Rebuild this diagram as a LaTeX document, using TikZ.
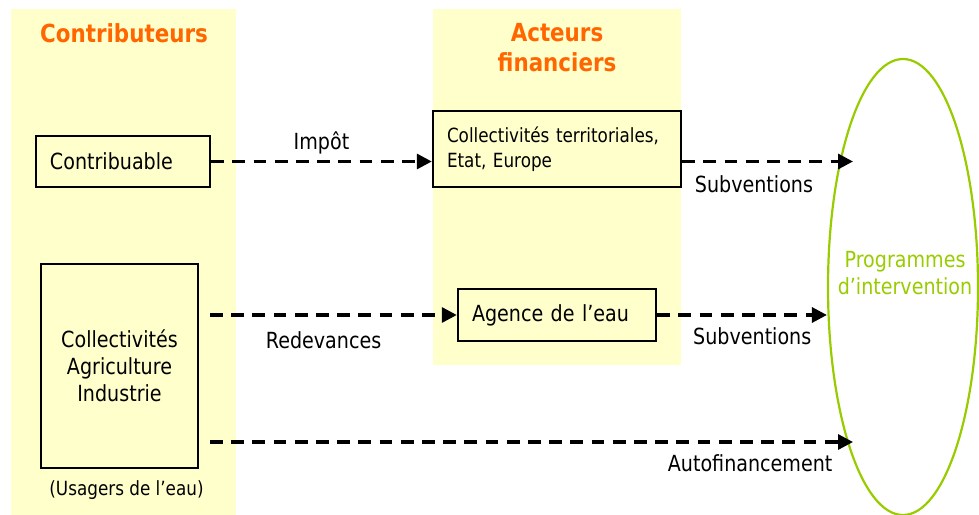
\documentclass[tikz,border=0pt]{standalone}
\usepackage{fontspec}
\setmainfont{DejaVu Sans}[FakeStretch=0.86]
\usepackage{tikz}
\usetikzlibrary{shapes, arrows.meta}
\definecolor{paleyellow}{HTML}{FFFFCC}
\definecolor{titleorange}{HTML}{FF6600}
\definecolor{progreen}{HTML}{99CC00}
\newcommand{\txtmain}{\fontsize{15.8pt}{19.2pt}\selectfont}
\newcommand{\txtsmall}{\fontsize{13.9pt}{17.8pt}\selectfont}
\newcommand{\txttitle}{\fontsize{17.7pt}{21.3pt}\selectfont\bfseries}
\tikzstyle{panel} = [rectangle, fill=paleyellow, inner sep=0pt]
\tikzstyle{coltitle} = [text=titleorange, font=\txttitle, align=center]
\tikzstyle{actor} = [rectangle, draw=black, line width=0.6mm, fill=paleyellow, font=\txtmain, inner xsep=3.5mm, align=left]
\tikzstyle{progellipse} = [ellipse, draw=progreen, line width=0.55mm, minimum width=37.5mm, minimum height=114mm]
\tikzstyle{flow} = [draw, line width=0.8mm, dash pattern=on 3.2mm off 2.1mm, -{Triangle[length=3.75mm, width=3.75mm]}]
\tikzstyle{lbl} = [font=\txtmain, inner sep=0pt]
\begin{document}
\begin{tikzpicture}[x=0.25mm, y=-0.25mm]
  \useasboundingbox (0,0) rectangle (979,515);
  %% columns
  \node [panel, minimum width=56.25mm, minimum height=126.5mm] (contribcol) at (123.5,262) {};
  \node [panel, minimum width=62mm, minimum height=89mm] (acteurcol) at (557,187) {};
  \node [coltitle] (contribtitle) at (124,33) {Contributeurs};
  \node [coltitle] (acteurtitle) at (557,48) {Acteurs\\financiers};
  %% nodes
  % contributeurs
  \node [actor, text width=36.5mm, minimum height=12.75mm] (contrib) at (123,161.5) {Contribuable};
  \node [actor, align=center, minimum width=39.25mm, minimum height=51mm] (usagers) at (119.5,366) {Collectivités\\Agriculture\\Industrie};
  \node [lbl, font=\txtsmall] (usagerslbl) at (126.5,490) {(Usagers de l’eau)};
  % acteurs financiers
  \node [actor, text width=55mm, minimum height=19mm, font=\txtsmall] (colter) at (557,149) {Collectivités territoriales,\\Etat, Europe};
  \node [actor, text width=42.5mm, minimum height=13mm] (agence) at (557,315) {Agence de l’eau};
  % programmes
  \node [progellipse] (prog) at (903,287) {};
  \node [lbl, text=progreen, align=center] (progtext) at (905,273) {Programmes\\d’intervention};
  % free ends
  \coordinate (redstart) at (210,315);
  \coordinate (autostart) at (210,442);
  \coordinate (in1) at (853,161.5);
  \coordinate (in3) at (853,442);
  %% edges
  \path [flow] (contrib.east) -- (colter.west |- contrib.east) node[lbl, midway, yshift=4.6mm] {Impôt};
  \path [flow] (colter.east |- contrib.east) -- (in1) node[lbl, pos=0.42, yshift=-5.6mm] {Subventions};
  \path [flow] (redstart) -- (agence.west) node[lbl, pos=0.46, yshift=-6.25mm] {Redevances};
  \path [flow] (agence.east) -- (agence.east -| prog.west) node[lbl, pos=0.56, yshift=-5.25mm] {Subventions};
  \path [flow] (autostart) -- (in3) node[lbl, pos=0.84, yshift=-5.4mm] {Autofinancement};
\end{tikzpicture}
\end{document}
